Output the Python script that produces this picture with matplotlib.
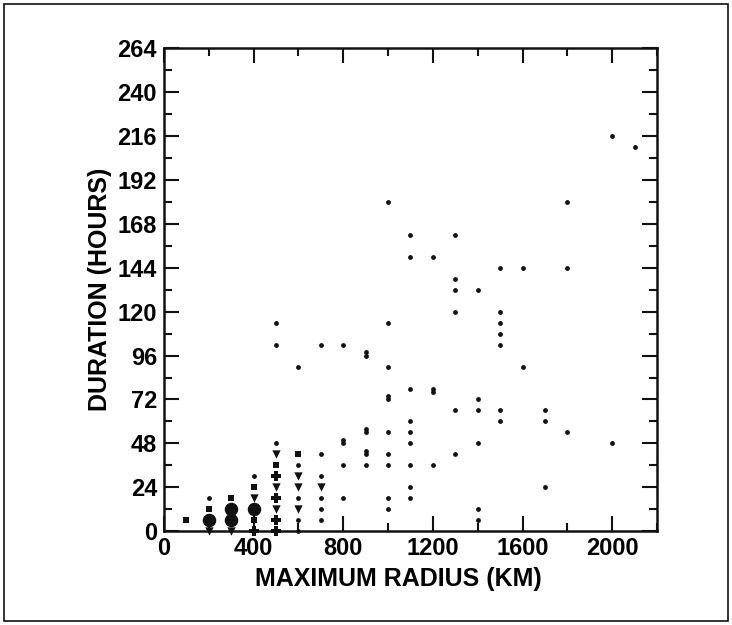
import matplotlib
matplotlib.use("Agg")
import matplotlib.pyplot as plt
from matplotlib.patches import Rectangle
from matplotlib.ticker import MultipleLocator

# small dots (single events)
dotX = [200, 400, 500, 500, 500,
        600, 600, 600, 600, 600,
        700, 700, 700, 700, 700, 700,
        800, 800, 800, 800, 800,
        900, 900, 900, 900, 900, 900, 900,
        1000, 1000, 1000, 1000, 1000, 1000, 1000, 1000, 1000, 1000,
        1100, 1100, 1100, 1100, 1100, 1100, 1100, 1100, 1100,
        1200, 1200, 1200, 1200,
        1300, 1300, 1300, 1300, 1300, 1300,
        1400, 1400, 1400, 1400, 1400, 1400,
        1500, 1500, 1500, 1500, 1500, 1500, 1500,
        1600, 1600,
        1700, 1700, 1700,
        1800, 1800, 1800,
        2000, 2000, 2100]
dotY = [18, 30, 48, 114, 102,
        36, 18, 6, 0, 90,
        102, 42, 30, 18, 12, 6,
        102, 48, 50, 36, 18,
        96, 98, 54, 56, 42, 44, 36,
        180, 114, 90, 72, 74, 54, 42, 36, 18, 12,
        162, 150, 78, 60, 54, 48, 36, 24, 18,
        150, 76, 78, 36,
        162, 138, 132, 120, 66, 42,
        132, 72, 66, 48, 12, 6,
        144, 120, 114, 108, 102, 66, 60,
        144, 90,
        66, 60, 24,
        180, 144, 54,
        216, 48, 210]

# other symbols in the crowded lower-left corner
triX = [200, 300, 400, 500, 500, 500, 600, 600, 600, 700]
triY = [0, 0, 18, 42, 24, 12, 30, 24, 12, 24]

sqX = [100, 200, 300, 400, 400, 500, 600]
sqY = [6, 12, 18, 24, 6, 36, 42]

bigX = [200, 300, 300, 400]
bigY = [6, 6, 12, 12]

plusX = [400, 500, 500, 500, 500]
plusY = [0, 30, 18, 6, 0]

xTicks = [0, 400, 800, 1200, 1600, 2000]
yTicks = list(range(0, 265, 24))

plt.rcParams["font.family"] = ["Liberation Sans", "DejaVu Sans"]
plt.rcParams["font.weight"] = "bold"

fig = plt.figure(figsize=(7.32, 6.25), dpi=100)
ax = fig.add_axes([0.224, 0.150, 0.6735, 0.773])

ink = "#111111"
ax.scatter(dotX, dotY, s=12, marker="o", color=ink, linewidths=0, clip_on=False, zorder=3)
ax.scatter(triX, triY, s=36, marker="v", color=ink, linewidths=0, clip_on=False, zorder=3)
ax.scatter(sqX, sqY, s=24, marker="s", color=ink, linewidths=0, clip_on=False, zorder=3)
ax.scatter(bigX, bigY, s=95, marker="o", color=ink, linewidths=0, clip_on=False, zorder=3)
ax.scatter(plusX, plusY, s=55, marker="P", color=ink, linewidths=0, clip_on=False, zorder=3)

ax.set_xlim(0, 2200)
ax.set_ylim(0, 264)
ax.set_xticks(xTicks)
ax.set_yticks(yTicks)
ax.xaxis.set_minor_locator(MultipleLocator(200))
ax.yaxis.set_minor_locator(MultipleLocator(12))
ax.tick_params(which="both", direction="in", top=True, right=True, width=1.5, color=ink)
ax.tick_params(which="major", length=11, labelsize=17)
ax.tick_params(which="minor", length=5.5)
ax.tick_params(axis="y", pad=5)
ax.tick_params(axis="x", pad=4)
for lab in ax.get_xticklabels() + ax.get_yticklabels():
    lab.set_fontweight("bold")
for sp in ax.spines.values():
    sp.set_linewidth(1.8)
    sp.set_color(ink)

ax.set_xlabel("MAXIMUM RADIUS (KM)", fontsize=18, fontweight="bold", labelpad=3)
ax.set_ylabel("DURATION (HOURS)", fontsize=18, fontweight="bold", labelpad=4)
ax.xaxis.set_label_coords(0.475, -0.075)

fig.patches.append(Rectangle((0.005, 0.006), 0.99, 0.988, transform=fig.transFigure,
                             fill=False, edgecolor=ink, linewidth=1.2))

fig.savefig("out.png", dpi=100)
